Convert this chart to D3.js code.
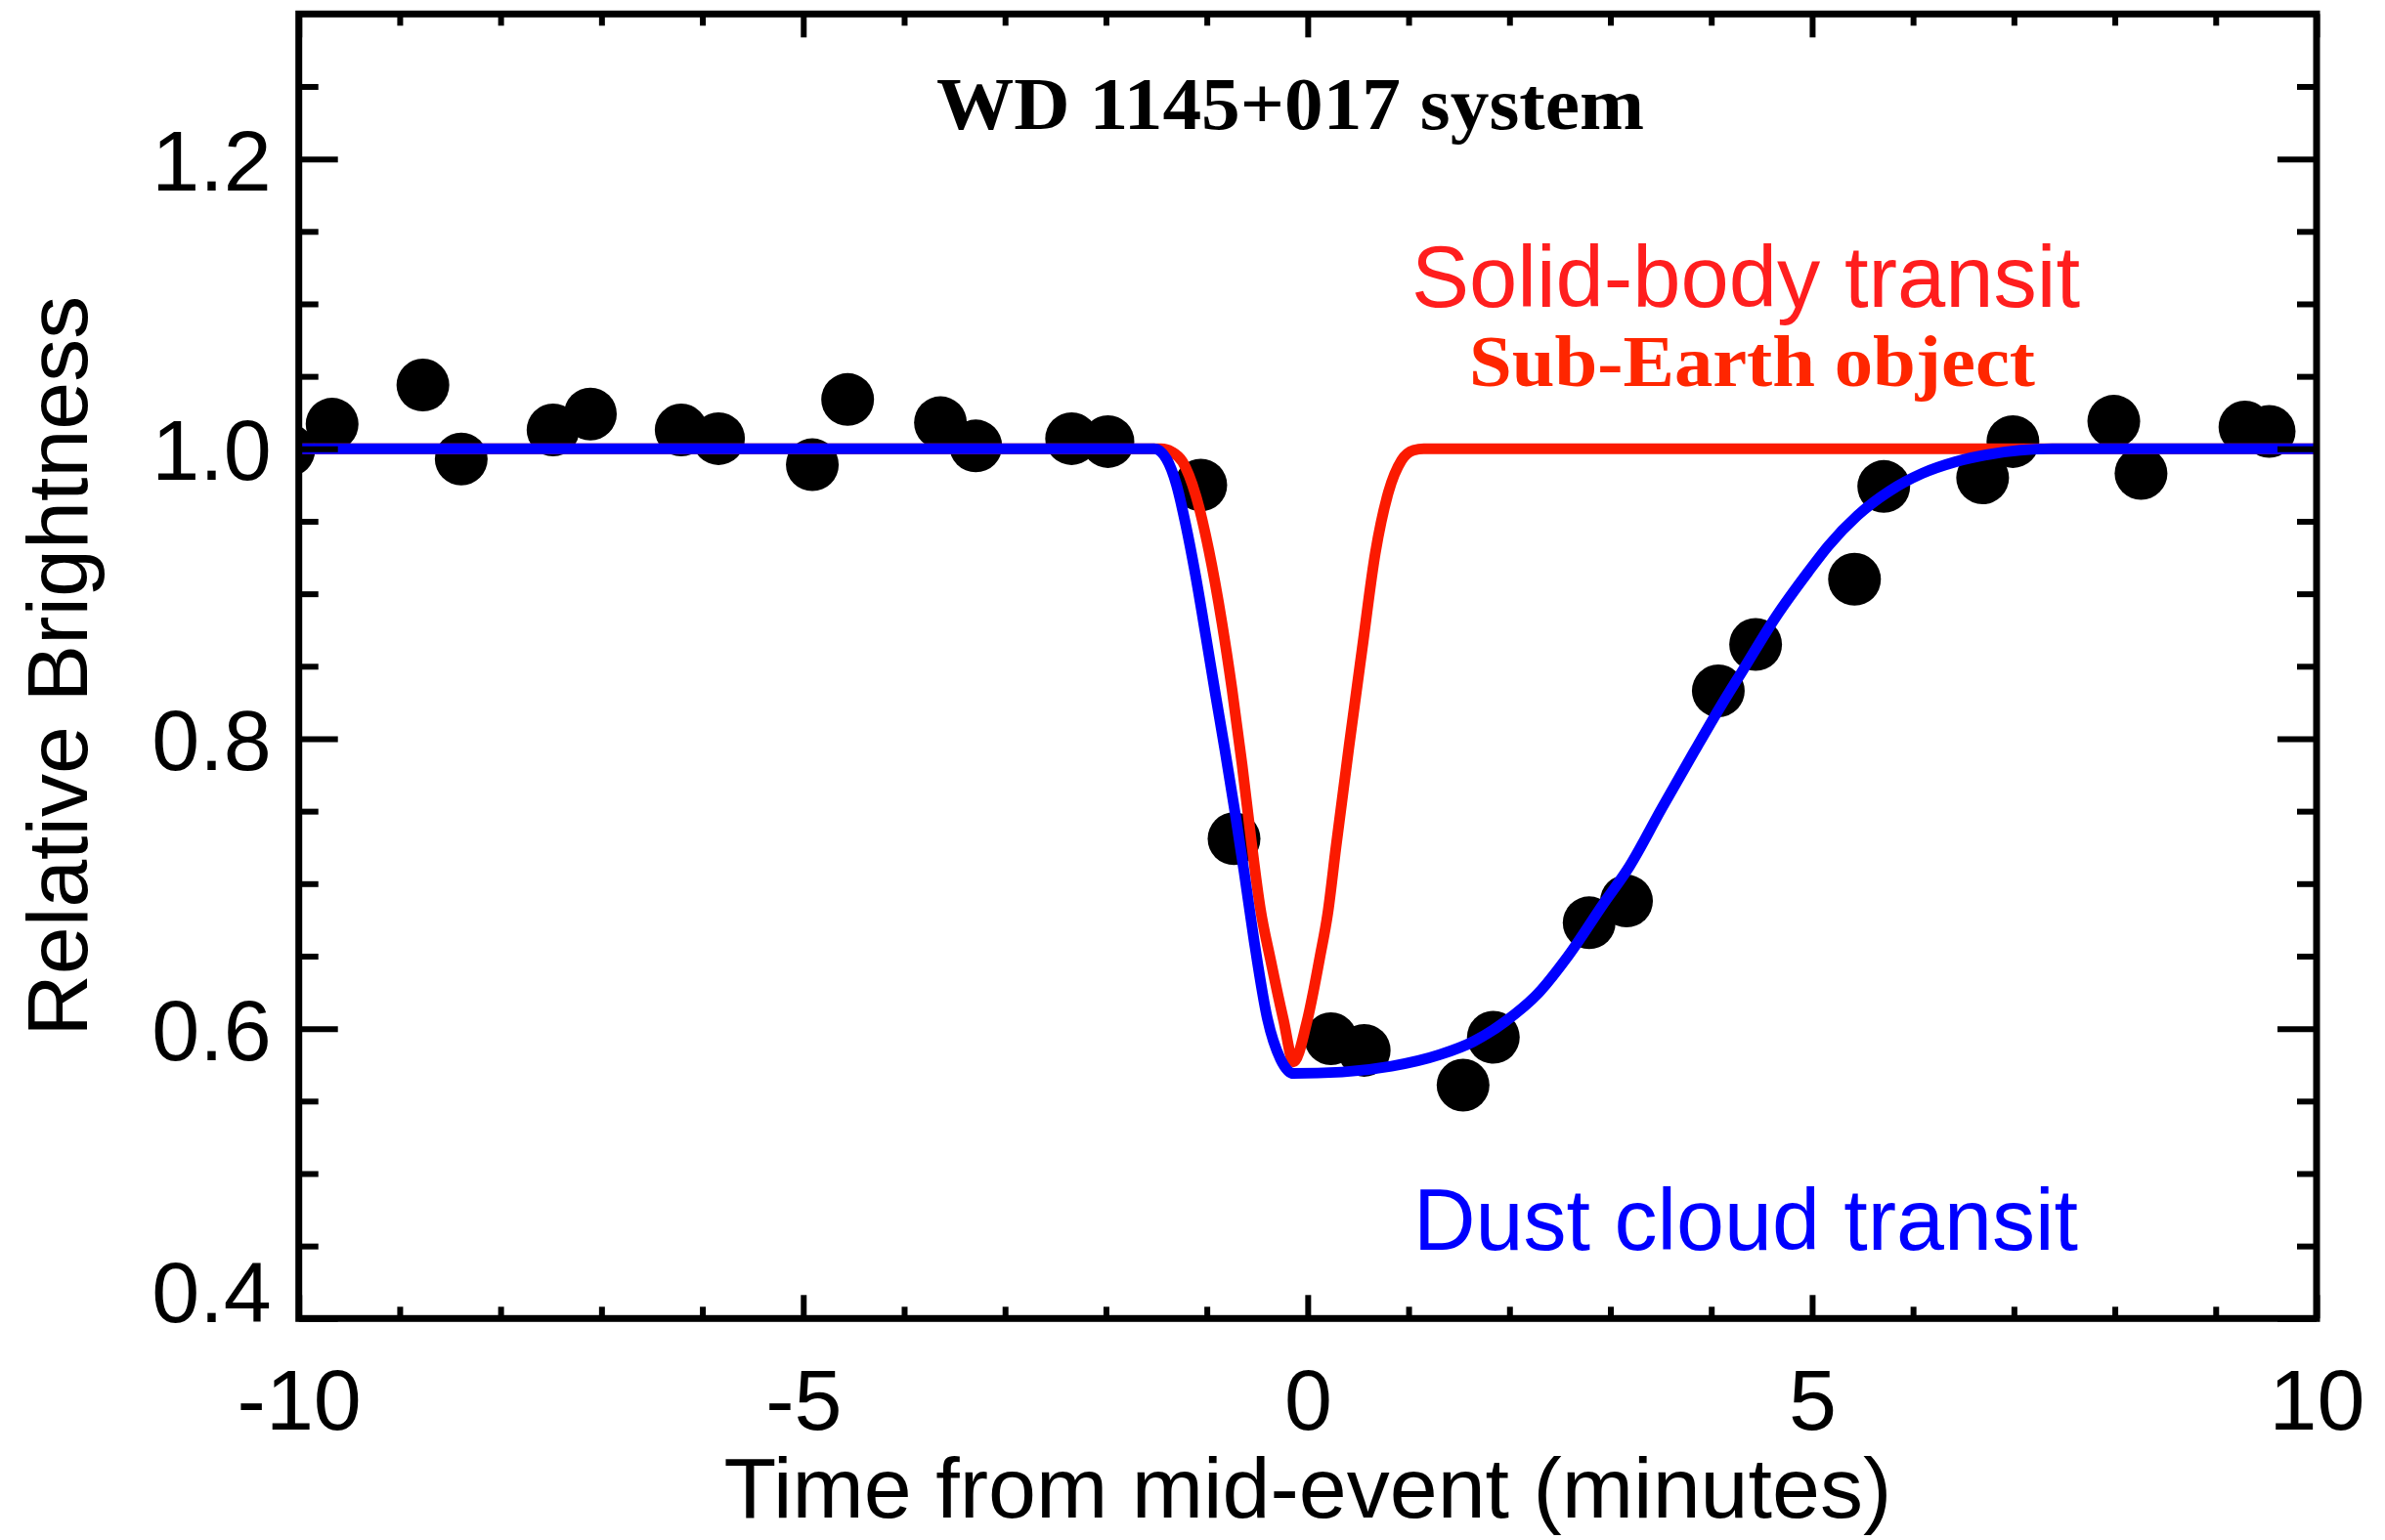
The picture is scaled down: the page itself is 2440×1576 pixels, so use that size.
<!DOCTYPE html>
<html>
<head>
<meta charset="utf-8">
<script src="https://cdn.jsdelivr.net/npm/d3@7"></script>
<style>
  html, body { margin: 0; padding: 0; background: #fff; }
  svg { display: block; }
</style>
</head>
<body>
<svg id="chart" width="2440" height="1576"></svg>
<script>
// Photometry of the WD 1145+017 transit event (time in minutes, relative flux)
const obsTime = [-10.1, -9.67, -8.77, -8.39, -7.48, -7.11, -6.21, -5.84, -4.91, -4.56, -3.64, -3.29,
  -2.34, -1.98, -1.06, -0.73, 0.23, 0.56, 1.54, 1.84, 2.79, 3.16, 4.07, 4.44, 5.42, 5.71,
  6.69, 6.99, 7.99, 8.26, 9.29, 9.53];
const obsFlux = [0.999, 1.017, 1.044, 0.993, 1.013, 1.024, 1.013, 1.007, 0.989, 1.034, 1.018, 1.002,
  1.007, 1.005, 0.975, 0.731, 0.593, 0.585, 0.561, 0.594, 0.673, 0.688, 0.833, 0.865, 0.910, 0.974,
  0.980, 1.005, 1.019, 0.983, 1.015, 1.012];

// Model light curve: solid body crossing the disc
const solidTime = [-10, -1.45, -1.35, -1.24, -1.11, -0.98, -0.85, -0.75, -0.65, -0.56, -0.47, -0.37,
  -0.24, -0.14, -0.01, 0.12, 0.20, 0.28, 0.41, 0.54, 0.67, 0.80, 0.93, 1.05, 1.15, 10];
const solidFlux = [1.0, 1.0, 0.998, 0.991, 0.968, 0.930, 0.880, 0.834, 0.782, 0.730, 0.683, 0.648,
  0.606, 0.577, 0.604, 0.649, 0.680, 0.725, 0.795, 0.862, 0.928, 0.970, 0.992, 0.999, 1.0, 1.0];

// Model light curve: trailing dust cloud
const dustTime = [-10, -1.52, -1.40, -1.30, -1.21, -1.11, -1.01, -0.92, -0.82, -0.72, -0.63, -0.53,
  -0.40, -0.27, -0.14, 0.34, 0.83, 1.31, 1.64, 1.96, 2.28, 2.58, 2.93, 3.19, 3.51, 3.83, 4.09,
  4.32, 4.64, 4.96, 5.16, 5.45, 5.77, 6.09, 6.42, 6.74, 7.06, 7.38, 10];
const dustFlux = [1.0, 1.0, 0.993, 0.975, 0.948, 0.912, 0.871, 0.833, 0.792, 0.749, 0.708, 0.660,
  0.607, 0.579, 0.569, 0.570, 0.574, 0.582, 0.591, 0.605, 0.624, 0.650, 0.686, 0.712, 0.752, 0.791, 0.822,
  0.848, 0.884, 0.915, 0.933, 0.954, 0.971, 0.983, 0.991, 0.996, 0.999, 1.0, 1.0];

// Axis ticks
const xMajorTicks = [-10, -5, 0, 5, 10];
const xTickLabels = ["-10", "-5", "0", "5", "10"];
const xMinorTicks = [-9, -8, -7, -6, -4, -3, -2, -1, 1, 2, 3, 4, 6, 7, 8, 9];
const yMajorTicks = [0.4, 0.6, 0.8, 1.0, 1.2];
const yTickLabels = ["0.4", "0.6", "0.8", "1.0", "1.2"];
const yMinorTicks = [0.45, 0.5, 0.55, 0.65, 0.7, 0.75, 0.85, 0.9, 0.95, 1.05, 1.1, 1.15, 1.25];

const plot = { left: 305.7, right: 2370, top: 14.3, bottom: 1349.3 };
const sansFont = "'Liberation Sans', Arial, Helvetica, sans-serif";
const serifFont = "'Liberation Serif', 'Times New Roman', serif";

const svg = d3.select("#chart");
svg.append("rect").attr("width", 2440).attr("height", 1576).attr("fill", "#fff");

const x = d3.scaleLinear().domain([-10, 10]).range([plot.left, plot.right]);
const y = d3.scaleLinear().domain([0.4, 1.3]).range([plot.bottom, plot.top]);

svg.append("defs").append("clipPath").attr("id", "plot-clip")
  .append("rect")
  .attr("x", plot.left).attr("y", plot.top)
  .attr("width", plot.right - plot.left).attr("height", plot.bottom - plot.top);

const inner = svg.append("g").attr("clip-path", "url(#plot-clip)");

// Observed points
inner.selectAll("circle.obs")
  .data(d3.zip(obsTime, obsFlux))
  .join("circle")
  .attr("class", "obs")
  .attr("cx", d => x(d[0]))
  .attr("cy", d => y(d[1]))
  .attr("r", 27)
  .attr("fill", "#000");

const line = d3.line()
  .x(d => x(d[0]))
  .y(d => y(d[1]))
  .curve(d3.curveMonotoneX);

inner.append("path")
  .datum(d3.zip(solidTime, solidFlux))
  .attr("d", line)
  .attr("fill", "none")
  .attr("stroke", "#fb1a00")
  .attr("stroke-width", 11)
  .attr("stroke-linejoin", "round");

inner.append("path")
  .datum(d3.zip(dustTime, dustFlux))
  .attr("d", line)
  .attr("fill", "none")
  .attr("stroke", "#0000ff")
  .attr("stroke-width", 11)
  .attr("stroke-linejoin", "round");

// Axes: ticks point inward on all four sides
function styleAxis(g) {
  g.select(".domain").remove();
  g.selectAll(".tick line").attr("stroke", "#000").attr("stroke-width", 6);
}

const xMajorLen = 24, xMinorLen = 12, yMajorLen = 40, yMinorLen = 20;

const gBottom = svg.append("g").attr("transform", `translate(0,${plot.bottom})`)
  .call(d3.axisBottom(x).tickValues(xMajorTicks)
    .tickFormat((d, i) => xTickLabels[i]).tickSize(-xMajorLen));
styleAxis(gBottom);
gBottom.selectAll("text")
  .attr("y", 114).attr("dy", 0)
  .attr("fill", "#000")
  .style("font-family", sansFont).style("font-size", "88px");

svg.append("g").attr("transform", `translate(0,${plot.bottom})`)
  .call(d3.axisBottom(x).tickValues(xMinorTicks).tickFormat("").tickSize(-xMinorLen))
  .call(styleAxis);

svg.append("g").attr("transform", `translate(0,${plot.top})`)
  .call(d3.axisTop(x).tickValues(xMajorTicks).tickFormat("").tickSize(-xMajorLen))
  .call(styleAxis);
svg.append("g").attr("transform", `translate(0,${plot.top})`)
  .call(d3.axisTop(x).tickValues(xMinorTicks).tickFormat("").tickSize(-xMinorLen))
  .call(styleAxis);

const gLeft = svg.append("g").attr("transform", `translate(${plot.left},0)`)
  .call(d3.axisLeft(y).tickValues(yMajorTicks)
    .tickFormat((d, i) => yTickLabels[i]).tickSize(-yMajorLen).tickPadding(28));
styleAxis(gLeft);
gLeft.selectAll("text")
  .attr("fill", "#000")
  .attr("dy", d => d === 0.4 ? "0.04em" : "0.36em")
  .style("font-family", sansFont).style("font-size", "88px");

svg.append("g").attr("transform", `translate(${plot.left},0)`)
  .call(d3.axisLeft(y).tickValues(yMinorTicks).tickFormat("").tickSize(-yMinorLen))
  .call(styleAxis);

svg.append("g").attr("transform", `translate(${plot.right},0)`)
  .call(d3.axisRight(y).tickValues(yMajorTicks).tickFormat("").tickSize(-yMajorLen))
  .call(styleAxis);
svg.append("g").attr("transform", `translate(${plot.right},0)`)
  .call(d3.axisRight(y).tickValues(yMinorTicks).tickFormat("").tickSize(-yMinorLen))
  .call(styleAxis);

// Plot frame
svg.append("rect")
  .attr("x", plot.left).attr("y", plot.top)
  .attr("width", plot.right - plot.left).attr("height", plot.bottom - plot.top)
  .attr("fill", "none").attr("stroke", "#000").attr("stroke-width", 7);

// Axis titles
svg.append("text")
  .attr("x", (plot.left + plot.right) / 2).attr("y", 1553)
  .attr("text-anchor", "middle")
  .style("font-family", sansFont).style("font-size", "88px")
  .attr("fill", "#000")
  .text("Time from mid-event (minutes)");

svg.append("text")
  .attr("transform", `translate(89,${(plot.top + plot.bottom) / 2}) rotate(-90)`)
  .attr("text-anchor", "middle")
  .style("font-family", sansFont).style("font-size", "88px")
  .attr("fill", "#000")
  .text("Relative Brightness");

// Annotations
svg.append("text")
  .attr("x", 958).attr("y", 132)
  .attr("textLength", 724).attr("lengthAdjust", "spacingAndGlyphs")
  .style("font-family", serifFont).style("font-size", "77px").style("font-weight", "bold")
  .attr("fill", "#000")
  .text("WD 1145+017 system");

svg.append("text")
  .attr("x", 1444).attr("y", 314)
  .attr("textLength", 684).attr("lengthAdjust", "spacingAndGlyphs")
  .style("font-family", sansFont).style("font-size", "89px")
  .attr("fill", "#ff1e1e")
  .text("Solid-body transit");

svg.append("text")
  .attr("x", 1503).attr("y", 395)
  .attr("textLength", 579).attr("lengthAdjust", "spacingAndGlyphs")
  .style("font-family", serifFont).style("font-size", "74px").style("font-weight", "bold")
  .attr("fill", "#ff2600")
  .text("Sub-Earth object");

svg.append("text")
  .attr("x", 1446).attr("y", 1279)
  .attr("textLength", 680).attr("lengthAdjust", "spacingAndGlyphs")
  .style("font-family", sansFont).style("font-size", "89px")
  .attr("fill", "#0000ff")
  .text("Dust cloud transit");
</script>
</body>
</html>
